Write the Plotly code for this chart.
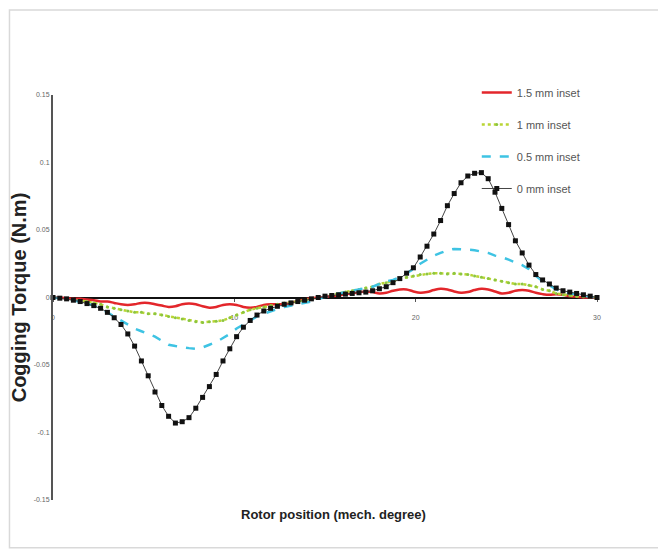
import plotly.graph_objects as go

# Rotor position samples (mech. degree)
x_deg = [round(i * 0.375, 3) for i in range(81)]

series_names = ["1.5 mm inset", "1 mm inset", "0.5 mm inset", "0 mm inset"]

torque_15mm = [
    0, 0, -0.0005, -0.001, -0.001, -0.0015, -0.002, -0.003, -0.003, -0.004,
    -0.005, -0.0055, -0.005, -0.004, -0.004, -0.005, -0.006, -0.007, -0.0065, -0.005,
    -0.0045, -0.005, -0.0065, -0.0075, -0.007, -0.0055, -0.005, -0.0055, -0.007, -0.0075,
    -0.007, -0.0055, -0.005, -0.005, -0.005, -0.004, -0.0025, -0.0015, -0.0005, 0.0,
    0.0005, 0.001, 0.0015, 0.0025, 0.003, 0.004, 0.0045, 0.004, 0.003, 0.0035,
    0.005, 0.006, 0.006, 0.0045, 0.0035, 0.004, 0.0055, 0.0065, 0.006, 0.0045,
    0.0035, 0.004, 0.0055, 0.0065, 0.006, 0.0045, 0.003, 0.0035, 0.005, 0.0055,
    0.005, 0.0035, 0.0025, 0.002, 0.0025, 0.002, 0.001, 0.0005, 0.0, 0.0, 0,
]

torque_1mm = [
    0, -0.0005, -0.001, -0.0015, -0.002, -0.003, -0.004, -0.005, -0.007, -0.008,
    -0.009, -0.010, -0.011, -0.011, -0.012, -0.012, -0.013, -0.014, -0.015, -0.016,
    -0.017, -0.018, -0.0185, -0.018, -0.0175, -0.017, -0.015, -0.013, -0.011, -0.009,
    -0.008, -0.007, -0.006, -0.005, -0.004, -0.0035, -0.003, -0.002, -0.001, 0.0,
    0.001, 0.002, 0.003, 0.004, 0.005, 0.006, 0.007, 0.008, 0.010, 0.011,
    0.012, 0.014, 0.015, 0.016, 0.017, 0.0175, 0.018, 0.018, 0.0175, 0.018,
    0.0175, 0.017, 0.016, 0.015, 0.014, 0.013, 0.012, 0.011, 0.010, 0.010,
    0.009, 0.008, 0.006, 0.005, 0.003, 0.002, 0.0015, 0.001, 0.0005, 0.0003, 0,
]

torque_05mm = [
    0, -0.0003, -0.001, -0.002, -0.003, -0.0045, -0.006, -0.008, -0.011, -0.014,
    -0.017, -0.020, -0.023, -0.025, -0.027, -0.029, -0.032, -0.035, -0.036, -0.037,
    -0.0375, -0.038, -0.037, -0.035, -0.033, -0.030, -0.027, -0.023, -0.020, -0.017,
    -0.014, -0.012, -0.010, -0.0085, -0.007, -0.006, -0.005, -0.004, -0.003, -0.001,
    0.0005, 0.002, 0.003, 0.004, 0.005, 0.006, 0.007, 0.008, 0.010, 0.012,
    0.013, 0.015, 0.018, 0.021, 0.025, 0.028, 0.031, 0.033, 0.035, 0.036,
    0.036, 0.0355, 0.035, 0.034, 0.033, 0.031, 0.030, 0.028, 0.026, 0.024,
    0.021, 0.016, 0.012, 0.009, 0.006, 0.004, 0.003, 0.002, 0.001, 0.0005, 0,
]

torque_0mm = [
    0, -0.0005, -0.001, -0.002, -0.003, -0.0045, -0.006, -0.008, -0.011, -0.015,
    -0.020, -0.027, -0.036, -0.047, -0.058, -0.070, -0.080, -0.088, -0.093, -0.092,
    -0.089, -0.082, -0.074, -0.066, -0.057, -0.047, -0.038, -0.029, -0.022, -0.017,
    -0.013, -0.010, -0.008, -0.0065, -0.005, -0.004, -0.003, -0.002, -0.001, 0.0,
    0.001, 0.0015, 0.002, 0.0025, 0.003, 0.0035, 0.004, 0.005, 0.0065, 0.008,
    0.011, 0.014, 0.018, 0.022, 0.030, 0.038, 0.047, 0.057, 0.068, 0.077,
    0.085, 0.090, 0.092, 0.0925, 0.088, 0.078, 0.066, 0.054, 0.042, 0.033,
    0.024, 0.017, 0.013, 0.010, 0.007, 0.005, 0.004, 0.003, 0.002, 0.001, 0.0,
]

y_tick_vals = [0.15, 0.1, 0.05, 0, -0.05, -0.1, -0.15]
y_tick_text = ["0.15", "0.1", "0.05", "0", "-0.05", "-0.1", "-0.15"]
x_tick_vals = [0, 10, 20, 30]
x_tick_text = ["0", "10", "20", "30"]

NARROW = "Liberation Sans Narrow, Arial Narrow, Liberation Sans, Arial, sans-serif"

fig = go.Figure()

fig.add_trace(go.Scatter(
    x=x_deg, y=torque_15mm, name=series_names[0], mode="lines",
    line=dict(color="#e3262b", width=2.5, shape="spline"),
    legendgroup="a", cliponaxis=False,
))
fig.add_trace(go.Scatter(
    x=x_deg, y=torque_1mm, name=series_names[1], mode="lines+markers",
    line=dict(color="#b9d534", width=2.5, dash="dot"),
    marker=dict(color="#8cc63f", size=3, symbol="circle"),
    legendgroup="b", cliponaxis=False,
))
fig.add_trace(go.Scatter(
    x=x_deg, y=torque_05mm, name=series_names[2], mode="lines",
    line=dict(color="#3ec3e3", width=2.5, dash="dash"),
    legendgroup="c", cliponaxis=False,
))
fig.add_trace(go.Scatter(
    x=x_deg, y=torque_0mm, name=series_names[3], mode="lines+markers",
    line=dict(color="#444444", width=1),
    marker=dict(color="#111111", size=5, symbol="square"),
    legendgroup="d", cliponaxis=False,
))

fig.update_layout(
    width=658, height=548,
    margin=dict(l=45, r=69, t=87, b=56, autoexpand=False),
    paper_bgcolor="white", plot_bgcolor="white",
    font=dict(family=NARROW, color="#333333"),
    showlegend=True,
    legend=dict(
        x=0.779, y=1.042, xanchor="left", yanchor="top",
        bgcolor="rgba(0,0,0,0)", tracegroupgap=13,
        font=dict(size=11, color="#555555", family=NARROW),
    ),
    xaxis=dict(
        range=[0, 30], anchor="free", position=0.5, automargin=False,
        showline=True, linecolor="#111111", linewidth=2, layer="below traces",
        showgrid=False, zeroline=False,
        tickvals=x_tick_vals, ticktext=x_tick_text,
        ticks="outside", ticklen=3, tickcolor="#555555",
        ticklabelstandoff=10,
        tickfont=dict(size=7, color="#666666"),
    ),
    yaxis=dict(
        range=[-0.15, 0.15], automargin=False,
        showline=True, linecolor="#555555", linewidth=2,
        showgrid=False, zeroline=False,
        tickvals=y_tick_vals, ticktext=y_tick_text,
        ticks="", tickfont=dict(size=7, color="#666666"),
        title=dict(text="<b>Cogging Torque (N.m)</b>", standoff=4,
                   font=dict(size=20, family="Liberation Sans, Arial, sans-serif", color="#222222")),
    ),
    shapes=[dict(
        type="rect", xref="paper", yref="paper",
        x0=-0.080, x1=1.118, y0=-0.118, y1=1.21,
        line=dict(color="#d9d9d9", width=1.5), fillcolor="rgba(0,0,0,0)",
        layer="below",
    )],
    annotations=[dict(
        text="<b>Rotor position (mech. degree)</b>", xref="paper", yref="paper",
        x=0.515, y=-0.037, xanchor="center", yanchor="middle", showarrow=False,
        font=dict(size=13, family=NARROW, color="#222222"),
    )],
)

fig.write_html("out.html")
